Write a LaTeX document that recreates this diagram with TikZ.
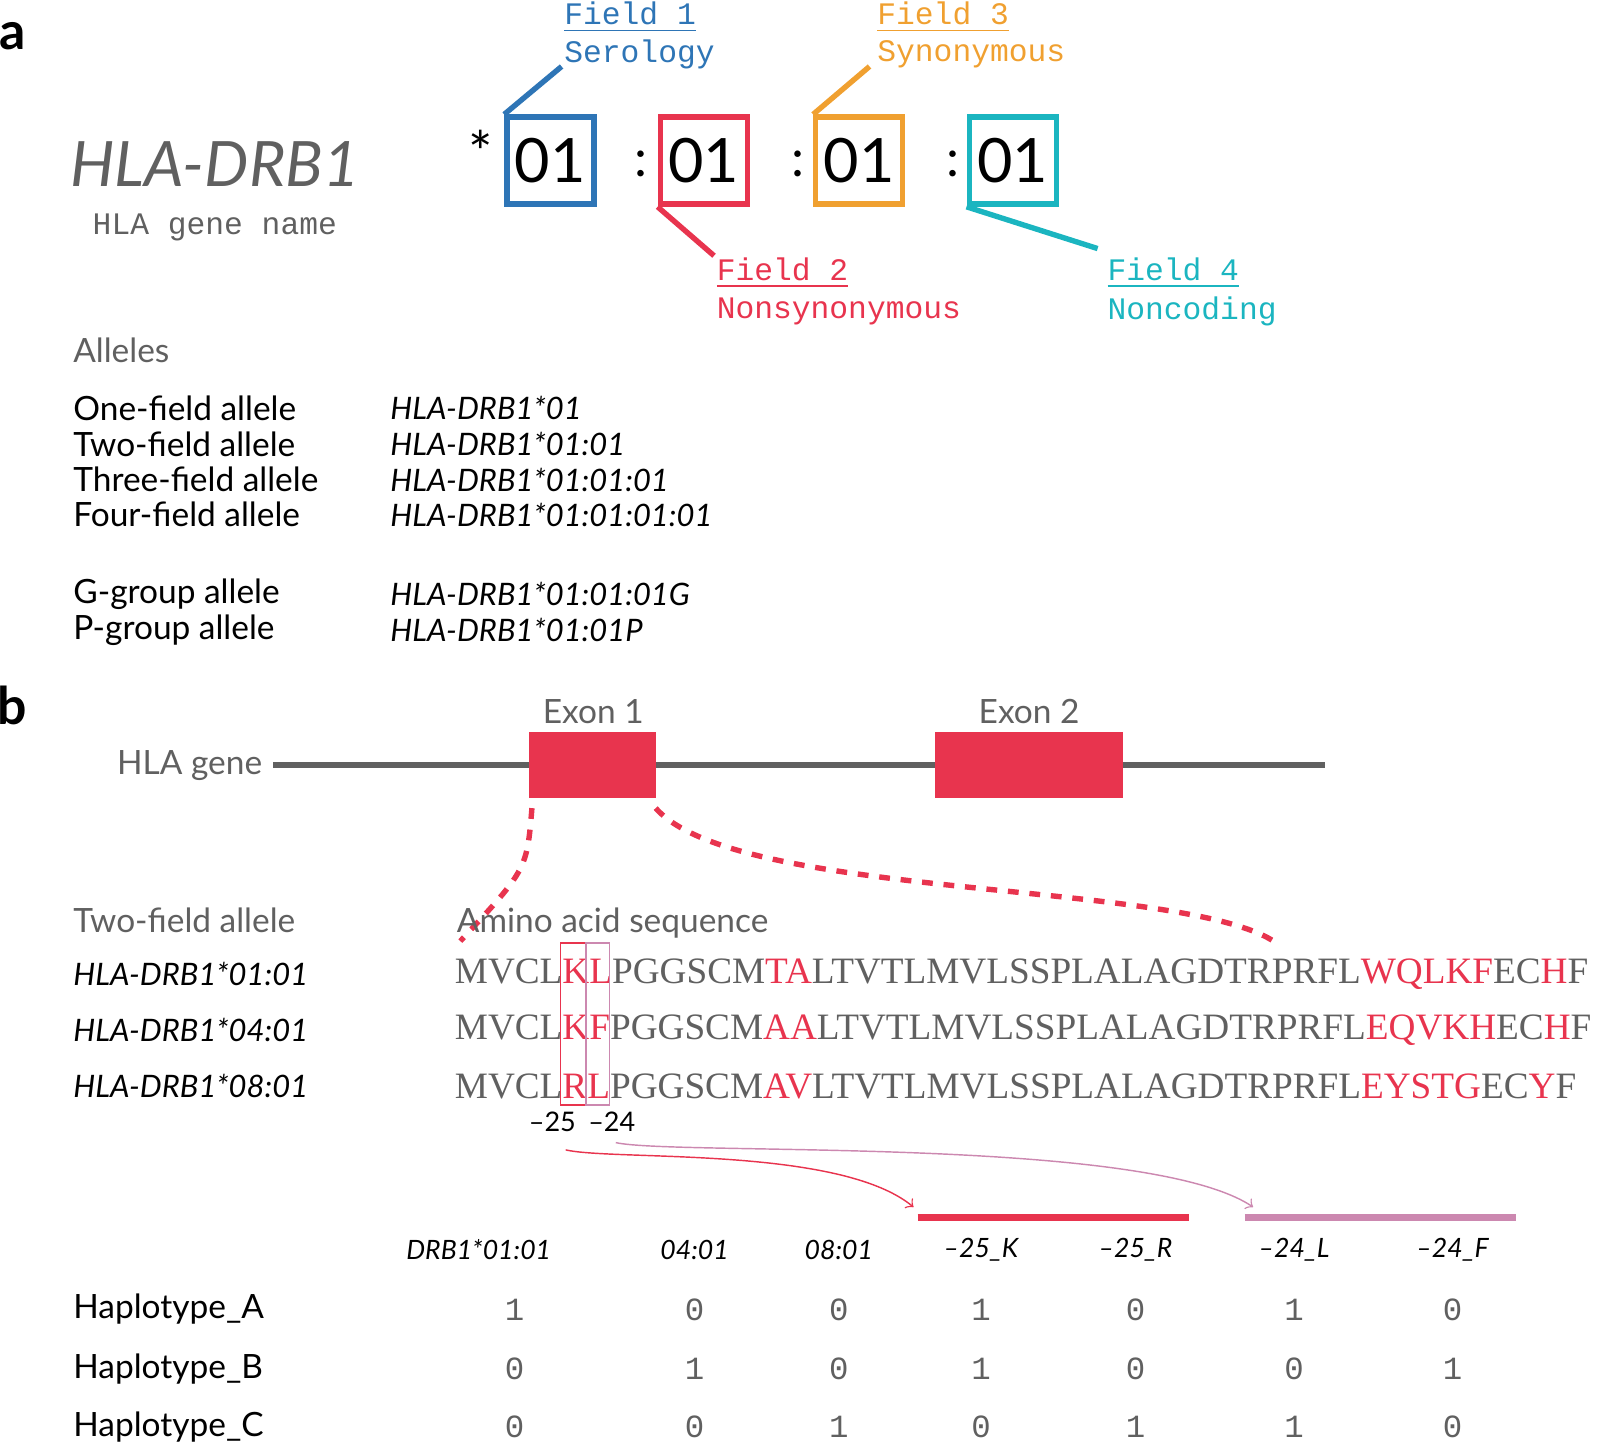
\documentclass[tikz,border=0pt]{standalone}
\usepackage{fontspec}
\setmainfont{Lato}
\newfontfamily\monof{Liberation Mono}
\newfontfamily\seqf{Liberation Serif}
\usetikzlibrary{positioning}
\definecolor{fblue}{HTML}{2E75B6}
\definecolor{fred}{HTML}{E8344E}
\definecolor{forange}{HTML}{F0A030}
\definecolor{fteal}{HTML}{1BB5C0}
\definecolor{fpink}{HTML}{CC88B0}
\definecolor{tgray}{HTML}{606060}
\tikzset{
 fbox/.style={draw, line width=1.5pt, minimum width=0.85cm, minimum height=0.85cm, inner sep=0pt, font=\fontsize{17}{17}\selectfont},
 lab/.style={font=\monof\fontsize{8.7}{10}\selectfont, inner sep=0pt},
 txt/.style={anchor=west, font=\fontsize{9.3}{11}\selectfont, inner sep=0pt},
 itx/.style={anchor=west, font=\fontsize{8.6}{11}\selectfont\itshape, inner sep=0pt},
 seq/.style={anchor=west, font=\seqf\fontsize{10.35}{12}\selectfont, text=tgray, inner sep=0pt},
 num/.style={font=\monof\fontsize{9}{10}\selectfont, text=tgray},
 hdr/.style={font=\fontsize{7.4}{10}\selectfont\itshape}
}
\newcommand{\rd}[1]{\textcolor{fred}{#1}}
\begin{document}
\begin{tikzpicture}[x=0.01cm,y=-0.01cm]
\useasboundingbox (0,0) rectangle (1568,1416);
% panel a
\node (pa) at (12,35) {\bfseries\Large a};
\node (gene) at (210,160) [text=tgray, font=\fontsize{17.4}{18}\selectfont\itshape] {HLA-DRB1};
\node (gname) at (210,222) [lab, text=tgray] {HLA gene name};
\node (star) at (470,148) {\fontsize{16}{16}\selectfont *};
\node (f1) at (538,157) [fbox, fblue] {\textcolor{black}{01}};
\node (f2) at (688,157) [fbox, fred] {\textcolor{black}{01}};
\node (f3) at (840,157) [fbox, forange] {\textcolor{black}{01}};
\node (f4) at (990,157) [fbox, fteal] {\textcolor{black}{01}};
\node at (627,160) {\Large :}; \node at (780,160) {\Large :}; \node at (932,160) {\Large :};
% field labels
\node (l1) at (551,17) [lab, anchor=west, text=fblue] {\underline{Field 1}};
\node (s1) at (551,53) [lab, anchor=west, text=fblue] {Serology};
\node (l2) at (700,267) [lab, anchor=west, text=fred] {\underline{Field 2}};
\node (s2) at (700,304) [lab, anchor=west, text=fred] {Nonsynonymous};
\node (l3) at (857,17) [lab, anchor=west, text=forange] {\underline{Field 3}};
\node (s3) at (857,53) [lab, anchor=west, text=forange] {Synonymous};
\node (l4) at (1082,267) [lab, anchor=west, text=fteal] {\underline{Field 4}};
\node (s4) at (1082,304) [lab, anchor=west, text=fteal] {Noncoding};
\draw [fblue, line width=1.5pt] (f1.north west) -- (549,65);
\draw [fred, line width=1.5pt] (f2.south west) -- (698,250);
\draw [forange, line width=1.5pt] (f3.north west) -- (850,65);
\draw [fteal, line width=1.5pt] (f4.south west) -- (1073,243);
% alleles
\node (al) at (71,342) [txt, text=tgray] {Alleles};
\foreach \y/\a/\b in {399/One-field allele/HLA-DRB1*01, 434/Two-field allele/HLA-DRB1*01:01, 469/Three-field allele/HLA-DRB1*01:01:01, 503/Four-field allele/HLA-DRB1*01:01:01:01, 581/G-group allele/HLA-DRB1*01:01:01G, 616/P-group allele/HLA-DRB1*01:01P}
 {\node at (71,\y) [txt] {\a}; \node at (381,\y) [itx] {\b};}
% panel b
\node (pb) at (12,690) {\bfseries\Large b};
\node (hg) at (257,748) [txt, anchor=east, text=tgray] {HLA gene};
\draw [tgray, line width=1.6pt] (hg.east) ++(10,0) -- (1295,748);
\node (ex1) at (579,748) [fill=fred, minimum width=1.24cm, minimum height=0.65cm, inner sep=0pt] {};
\node (ex2) at (1006,748) [fill=fred, minimum width=1.84cm, minimum height=0.65cm, inner sep=0pt] {};
\node at (580,696) [text=tgray, font=\fontsize{9.3}{11}\selectfont] {Exon 1};
\node at (1006,696) [text=tgray, font=\fontsize{9.3}{11}\selectfont] {Exon 2};
\draw [fred, dashed, line width=1.5pt] (520,790) .. controls (515,850) .. (450,920);
\draw [fred, dashed, line width=1.5pt] (641,790) .. controls (720,880) and (1150,860) .. (1245,920);
\node at (71,900) [txt, text=tgray] {Two-field allele};
\node at (446,902) [txt, text=tgray] {Amino acid sequence};
\node at (71,952) [itx] {HLA-DRB1*01:01};
\node at (71,1007) [itx] {HLA-DRB1*04:01};
\node at (71,1062) [itx] {HLA-DRB1*08:01};
\node (q1) at (444,952) [seq] {MVCL\rd{KL}PGGSCM\rd{TA}LTVTLMVLSSPLALAGDTRPRFL\rd{WQLKF}EC\rd{H}F};
\node (q2) at (444,1007) [seq] {MVCL\rd{KF}PGGSCM\rd{AA}LTVTLMVLSSPLALAGDTRPRFL\rd{EQVKH}EC\rd{H}F};
\node (q3) at (444,1062) [seq] {MVCL\rd{RL}PGGSCM\rd{AV}LTVTLMVLSSPLALAGDTRPRFL\rd{EYSTG}EC\rd{Y}F};
\draw [fred] (548,922) rectangle (573,1080);
\draw [fpink] (573,922) rectangle (596,1080);
\node (m25) at (540,1097) [font=\fontsize{7.5}{8}\selectfont] {–25};
\node (m24) at (598,1097) [font=\fontsize{7.5}{8}\selectfont] {–24};
\coordinate (kr) at (897,1190); \coordinate (lf) at (1217,1190);
\draw [fred, line width=2pt] (kr) -- (1162,1190);
\draw [fpink, line width=2pt] (lf) -- (1482,1190);
\draw [fred, ->] (m25.south) ++(13,5) .. controls (600,1135) and (820,1120) .. (893,1180);
\draw [fpink, ->] (m24.south) ++(4,-2) .. controls (660,1130) and (1120,1110) .. (1225,1180);
% table
\foreach \x/\h in {468/DRB1*01:01, 679/04:01, 820/08:01, 959/–25\_K, 1110/–25\_R, 1265/–24\_L, 1420/–24\_F}
 \node at (\x,1222) [hdr] {\h};
\foreach \y/\n/\v in {1280/A/{1,0,0,1,0,1,0}, 1338/B/{0,1,0,1,0,0,1}, 1395/C/{0,0,1,0,1,1,0}} {
 \node at (71,\y) [txt] {Haplotype\_\n};
 \foreach \c [count=\i] in \v {
  \pgfmathsetmacro{\xx}{{0,503,679,820,959,1110,1265,1420}[\i]}
  \node at (\xx,\y) [num] {\c};
 }
}
\end{tikzpicture}
\end{document}
